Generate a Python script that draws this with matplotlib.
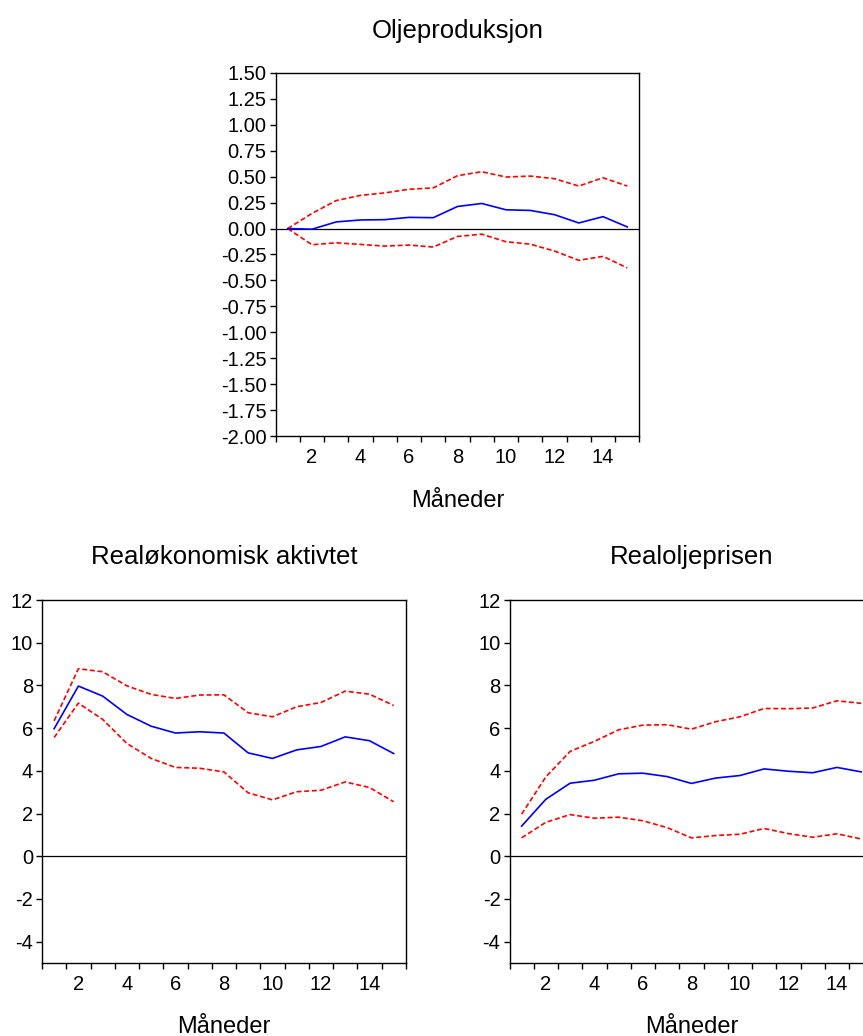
import matplotlib
matplotlib.use("Agg")
import matplotlib.pyplot as plt
from matplotlib.ticker import FixedLocator, FixedFormatter, FormatStrFormatter

plt.rcParams['font.family'] = ['Liberation Sans', 'DejaVu Sans']
plt.rcParams['axes.unicode_minus'] = False

months = list(range(1, 16))

# Oljeproduksjon
olje_mid = [0.00, -0.006, 0.064, 0.083, 0.086, 0.108, 0.105, 0.213, 0.242, 0.181, 0.175, 0.134, 0.054, 0.115, 0.016]
olje_hi = [0.00, 0.146, 0.27, 0.32, 0.344, 0.379, 0.392, 0.51, 0.548, 0.497, 0.506, 0.481, 0.41, 0.49, 0.41]
olje_lo = [0.00, -0.156, -0.137, -0.153, -0.169, -0.159, -0.178, -0.076, -0.054, -0.127, -0.15, -0.217, -0.306, -0.268, -0.379]

# Realøkonomisk aktivtet
akt_mid = [5.97, 7.97, 7.50, 6.64, 6.09, 5.77, 5.83, 5.77, 4.84, 4.58, 4.98, 5.14, 5.59, 5.41, 4.81]
akt_hi = [6.34, 8.78, 8.64, 7.98, 7.58, 7.39, 7.55, 7.56, 6.72, 6.53, 7.00, 7.20, 7.73, 7.59, 7.06]
akt_lo = [5.56, 7.17, 6.41, 5.28, 4.58, 4.16, 4.12, 3.95, 2.97, 2.64, 3.02, 3.09, 3.48, 3.22, 2.55]

# Realoljeprisen
pris_mid = [1.41, 2.67, 3.42, 3.56, 3.86, 3.89, 3.73, 3.41, 3.66, 3.78, 4.09, 3.98, 3.91, 4.16, 3.95]
pris_hi = [1.97, 3.72, 4.91, 5.38, 5.92, 6.14, 6.16, 5.95, 6.30, 6.53, 6.92, 6.91, 6.94, 7.28, 7.16]
pris_lo = [0.86, 1.59, 1.95, 1.78, 1.83, 1.66, 1.34, 0.86, 0.97, 1.03, 1.30, 1.06, 0.89, 1.05, 0.81]

top_yticks = [-2.00, -1.75, -1.50, -1.25, -1.00, -0.75, -0.50, -0.25, 0.00, 0.25, 0.50, 0.75, 1.00, 1.25, 1.50]
bot_yticks = [-4, -2, 0, 2, 4, 6, 8, 10, 12]
x_labels = [2, 4, 6, 8, 10, 12, 14]

W, H = 863, 1036
fig = plt.figure(figsize=(W / 100, H / 100), dpi=100)

def px_axes(left, top, width, height):
    return fig.add_axes([left / W, 1 - (top + height) / H, width / W, height / H])

def style(ax, ylim, yticks, fmt):
    ax.set_xlim(0.5, 15.5)
    ax.set_ylim(*ylim)
    for s in ax.spines.values():
        s.set_linewidth(1.0)
        s.set_color('black')
    ax.xaxis.set_major_locator(FixedLocator([i + 0.5 for i in range(0, 16)]))
    ax.xaxis.set_major_formatter(FixedFormatter([''] * 16))
    ax.xaxis.set_minor_locator(FixedLocator(x_labels))
    ax.xaxis.set_minor_formatter(FixedFormatter([str(v) for v in x_labels]))
    ax.tick_params(axis='x', which='major', direction='out', length=4.5, width=1.0, bottom=True, top=False)
    ax.tick_params(axis='x', which='minor', length=0, pad=8.5, labelsize=14.5)
    ax.set_yticks(yticks)
    if fmt:
        ax.yaxis.set_major_formatter(FormatStrFormatter(fmt))
    ax.tick_params(axis='y', which='major', direction='out', length=4.5, width=1.0, pad=2,
                   labelsize=14.5, left=True, right=False)
    ax.axhline(0, color='black', lw=0.9, zorder=1)

def draw(ax, mid, hi, lo):
    ax.plot(months, hi, color='#ff0000', lw=1.2, linestyle=(0, (3, 1.6)), zorder=3)
    ax.plot(months, lo, color='#ff0000', lw=1.2, linestyle=(0, (3, 1.6)), zorder=3)
    ax.plot(months, mid, color='#0000ff', lw=1.2, zorder=4)

ax1 = px_axes(275.6, 73, 363.8, 363)
style(ax1, (-2.0, 1.5), top_yticks, '%.2f')
draw(ax1, olje_mid, olje_hi, olje_lo)

ax2 = px_axes(42, 600, 363.8, 363)
style(ax2, (-5, 12), bot_yticks, None)
draw(ax2, akt_mid, akt_hi, akt_lo)

ax3 = px_axes(509.5, 600, 363.8, 363)
style(ax3, (-5, 12), bot_yticks, None)
draw(ax3, pris_mid, pris_hi, pris_lo)

def ftext(xpx, ypx, s, size):
    fig.text(xpx / W, 1 - ypx / H, s, ha='center', va='baseline', fontsize=size)

ftext(457.5, 37.7, 'Oljeproduksjon', 18.5)
ftext(457.5, 506.7, 'Måneder', 17)
ftext(223.9, 564, 'Realøkonomisk aktivtet', 18.5)
ftext(691.4, 564, 'Realoljeprisen', 18.5)
ftext(223.9, 1033, 'Måneder', 17)
ftext(691.4, 1033, 'Måneder', 17)

fig.savefig('out.png', dpi=100)
